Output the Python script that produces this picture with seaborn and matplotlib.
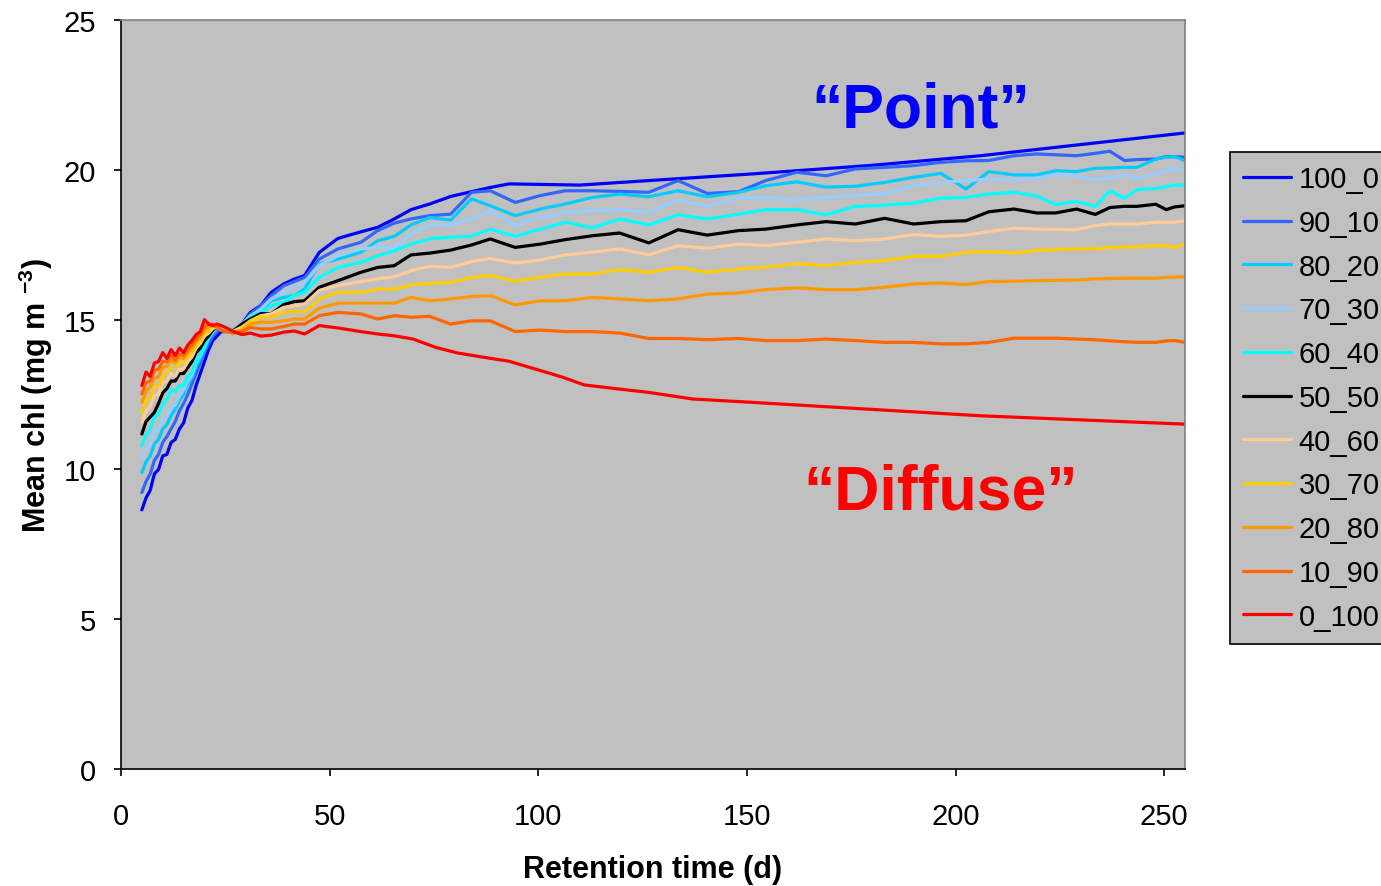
import numpy as np
import pandas as pd
import matplotlib
matplotlib.use("Agg")
import matplotlib.pyplot as plt
from matplotlib.lines import Line2D
import seaborn as sns

# ---------------- data ----------------
series_names = ["100_0", "90_10", "80_20", "70_30", "60_40", "50_50",
                "40_60", "30_70", "20_80", "10_90", "0_100"]
series_colors = ["#0000FF", "#3366FF", "#00CCFF", "#99CCFF", "#00FFFF", "#000000",
                 "#FFCC99", "#FFCC00", "#FF9900", "#FF6600", "#FF0000"]

# dense early part (retention time 5..25 d)
x_dense = [5, 6, 7, 8, 9, 10, 11, 12, 13, 14, 15, 16, 17, 18, 19, 20, 21, 22, 23, 24, 25]
# shared later grid for the wiggly mixtures
x_tail = [27, 29, 31, 33.5, 36, 39, 41.5, 44, 47.5, 52, 57.5, 61.5, 65.5, 69.5, 74, 79, 84,
          88.5, 94.5, 100.5, 106.5, 113, 119.5, 126.5, 133.5, 140.5, 148, 154.5, 162, 169,
          176, 183, 190, 196.5, 202.5, 208, 214, 219.5, 224, 229, 233.5, 237, 240.5, 243.5,
          248, 250.5, 252.5, 255]
# own later grids for the two end-members
x_tail_100_0 = [27, 29, 31, 33.5, 36, 39, 41.5, 44, 47.5, 52, 57.5, 61.5, 65.5, 69.5, 74, 79,
                84, 88.5, 93, 110, 126.5, 151, 180, 206, 255]
x_tail_0_100 = [27, 29, 31, 33.5, 36, 39, 41.5, 44, 47.5, 52, 57.5, 61.5, 65.5, 70, 75.5, 80.5,
                87, 93, 100.5, 106, 111, 119.5, 126.5, 137, 151, 206, 255]

d_100_0 = [8.65, 9.05, 9.3, 9.85, 10.0, 10.45, 10.5, 10.9, 11.0, 11.35, 11.55, 12.05, 12.3, 12.8,
           13.2, 13.6, 14.0, 14.3, 14.45, 14.6, 14.6]
t_100_0 = [14.65, 14.85, 15.24, 15.47, 15.91, 16.19, 16.35, 16.47, 17.24, 17.71, 17.93, 18.08,
           18.36, 18.67, 18.86, 19.11, 19.27, 19.41, 19.53, 19.49, 19.64, 19.86, 20.15, 20.47, 21.23]

d_90_10 = [9.23, 9.6, 9.85, 10.3, 10.5, 10.9, 11.1, 11.35, 11.6, 11.95, 12.2, 12.5, 12.85, 13.2,
           13.55, 13.9, 14.2, 14.45, 14.6, 14.7, 14.7]
t_90_10 = [14.6, 14.8, 15.19, 15.46, 15.8, 16.13, 16.27, 16.41, 17.02, 17.36, 17.58, 17.97, 18.22,
           18.36, 18.47, 18.52, 19.25, 19.3, 18.91, 19.14, 19.3, 19.3, 19.28, 19.25, 19.64, 19.21,
           19.27, 19.64, 19.92, 19.8, 20.03, 20.08, 20.14, 20.25, 20.3, 20.31, 20.47, 20.53, 20.5,
           20.47, 20.55, 20.62, 20.31, 20.34, 20.36, 20.44, 20.44, 20.42]

d_80_20 = [9.9, 10.25, 10.45, 10.85, 11.0, 11.35, 11.5, 11.8, 12.0, 12.3, 12.5, 12.85, 13.05, 13.45,
           13.7, 14.0, 14.35, 14.55, 14.7, 14.75, 14.75]
t_80_20 = [14.62, 14.85, 15.13, 15.3, 15.63, 15.74, 15.8, 16.02, 16.86, 17.02, 17.25, 17.63, 17.78,
           18.16, 18.41, 18.32, 19.03, 18.8, 18.47, 18.69, 18.86, 19.08, 19.19, 19.1, 19.3, 19.1,
           19.25, 19.47, 19.6, 19.42, 19.45, 19.58, 19.75, 19.88, 19.36, 19.94, 19.83, 19.83, 19.97,
           19.94, 20.05, 20.06, 20.08, 20.08, 20.36, 20.42, 20.44, 20.3]

d_70_30 = [10.35, 10.7, 10.85, 11.25, 11.35, 11.7, 11.75, 12.1, 12.15, 12.45, 12.65, 12.95, 13.15,
           13.55, 13.8, 14.1, 14.4, 14.6, 14.75, 14.8, 14.75]
t_70_30 = [14.62, 14.85, 15.11, 15.35, 15.69, 15.91, 16.08, 16.24, 16.8, 17.13, 17.36, 17.41, 17.41,
           17.86, 18.16, 18.16, 18.36, 18.64, 18.14, 18.41, 18.58, 18.64, 18.67, 18.58, 18.99, 18.78,
           19.05, 19.08, 18.99, 19.08, 19.14, 19.2, 19.47, 19.58, 19.64, 19.69, 19.67, 19.72, 19.83,
           19.8, 19.67, 19.73, 19.83, 19.73, 19.86, 19.97, 20.08, 19.97]

d_60_40 = [10.8, 11.15, 11.35, 11.75, 11.85, 12.2, 12.35, 12.65, 12.6, 12.8, 12.8, 13.1, 13.25, 13.6,
           13.85, 14.15, 14.45, 14.65, 14.8, 14.8, 14.75]
t_60_40 = [14.62, 14.8, 15.08, 15.24, 15.46, 15.58, 15.8, 15.91, 16.41, 16.74, 16.91, 17.13, 17.3,
           17.52, 17.69, 17.75, 17.78, 18.02, 17.78, 18.02, 18.25, 18.06, 18.36, 18.16, 18.5, 18.36,
           18.52, 18.67, 18.67, 18.5, 18.78, 18.82, 18.89, 19.05, 19.08, 19.19, 19.25, 19.12, 18.84,
           18.94, 18.78, 19.3, 19.05, 19.34, 19.38, 19.44, 19.49, 19.49]

d_50_50 = [11.18, 11.6, 11.75, 11.9, 12.2, 12.55, 12.7, 12.95, 12.95, 13.2, 13.2, 13.4, 13.6, 13.9,
           14.05, 14.3, 14.45, 14.65, 14.75, 14.65, 14.65]
t_50_50 = [14.62, 14.85, 15.02, 15.2, 15.19, 15.5, 15.6, 15.63, 16.08, 16.3, 16.58, 16.74, 16.8,
           17.16, 17.22, 17.32, 17.49, 17.69, 17.41, 17.52, 17.67, 17.8, 17.89, 17.56, 18.0, 17.82,
           17.97, 18.02, 18.16, 18.27, 18.19, 18.38, 18.19, 18.27, 18.3, 18.6, 18.69, 18.56, 18.56,
           18.69, 18.51, 18.74, 18.78, 18.78, 18.85, 18.67, 18.76, 18.8]

d_40_60 = [11.57, 11.95, 12.1, 12.45, 12.5, 12.9, 12.95, 13.2, 13.1, 13.35, 13.35, 13.6, 13.75, 14.05,
           14.2, 14.45, 14.55, 14.7, 14.75, 14.7, 14.65]
t_40_60 = [14.62, 14.75, 14.96, 15.13, 15.19, 15.41, 15.46, 15.52, 15.97, 16.13, 16.27, 16.36, 16.43,
           16.63, 16.78, 16.74, 16.94, 17.04, 16.89, 16.99, 17.16, 17.25, 17.36, 17.16, 17.47, 17.38,
           17.52, 17.47, 17.58, 17.69, 17.63, 17.69, 17.84, 17.78, 17.82, 17.94, 18.05, 18.02, 18.01,
           18.0, 18.14, 18.19, 18.19, 18.19, 18.25, 18.25, 18.25, 18.3]

d_30_70 = [11.9, 12.3, 12.4, 12.75, 12.8, 13.1, 13.25, 13.4, 13.4, 13.55, 13.55, 13.8, 13.9, 14.15,
           14.3, 14.55, 14.65, 14.75, 14.75, 14.65, 14.6]
t_30_70 = [14.6, 14.7, 14.93, 15.08, 15.08, 15.24, 15.28, 15.26, 15.69, 15.91, 15.91, 16.02, 16.02,
           16.16, 16.21, 16.24, 16.41, 16.47, 16.28, 16.41, 16.52, 16.52, 16.67, 16.58, 16.74, 16.58,
           16.69, 16.75, 16.86, 16.8, 16.91, 16.97, 17.11, 17.11, 17.25, 17.27, 17.22, 17.31, 17.34,
           17.36, 17.36, 17.41, 17.42, 17.43, 17.47, 17.47, 17.41, 17.52]

d_20_80 = [12.24, 12.6, 12.75, 13.05, 13.1, 13.4, 13.45, 13.65, 13.55, 13.75, 13.7, 13.9, 14.05, 14.25,
           14.4, 14.65, 14.75, 14.8, 14.75, 14.65, 14.6]
t_20_80 = [14.55, 14.65, 14.85, 14.91, 14.91, 14.96, 15.02, 15.02, 15.38, 15.55, 15.55, 15.55, 15.55,
           15.74, 15.63, 15.69, 15.77, 15.8, 15.49, 15.63, 15.63, 15.74, 15.69, 15.63, 15.69, 15.85,
           15.89, 16.0, 16.06, 16.0, 16.0, 16.08, 16.19, 16.22, 16.17, 16.27, 16.28, 16.3, 16.31,
           16.32, 16.36, 16.37, 16.38, 16.38, 16.38, 16.41, 16.42, 16.43]

d_10_90 = [12.52, 12.9, 12.95, 13.3, 13.35, 13.6, 13.6, 13.8, 13.65, 13.85, 13.8, 14.0, 14.15, 14.35,
           14.5, 14.75, 14.85, 14.85, 14.75, 14.65, 14.6]
t_10_90 = [14.55, 14.6, 14.74, 14.69, 14.69, 14.77, 14.85, 14.85, 15.13, 15.24, 15.19, 15.02, 15.13,
           15.08, 15.11, 14.85, 14.96, 14.96, 14.6, 14.65, 14.6, 14.6, 14.55, 14.37, 14.37, 14.33,
           14.37, 14.3, 14.3, 14.35, 14.3, 14.24, 14.24, 14.19, 14.19, 14.24, 14.38, 14.38, 14.38,
           14.35, 14.33, 14.29, 14.26, 14.24, 14.24, 14.29, 14.3, 14.24]

d_0_100 = [12.8, 13.25, 13.1, 13.55, 13.6, 13.9, 13.7, 14.0, 13.8, 14.05, 13.9, 14.15, 14.3, 14.5,
           14.6, 15.0, 14.85, 14.8, 14.85, 14.8, 14.74]
t_0_100 = [14.6, 14.5, 14.55, 14.45, 14.48, 14.58, 14.62, 14.52, 14.8, 14.72, 14.6, 14.52, 14.46,
           14.35, 14.07, 13.89, 13.74, 13.61, 13.3, 13.07, 12.82, 12.68, 12.57, 12.35, 12.24, 11.79,
           11.51]

x_ticks = [0, 50, 100, 150, 200, 250]
y_ticks = [0, 5, 10, 15, 20, 25]

# ---------------- assemble long table ----------------
dense_vals = [d_100_0, d_90_10, d_80_20, d_70_30, d_60_40, d_50_50,
              d_40_60, d_30_70, d_20_80, d_10_90, d_0_100]
tail_vals = [t_100_0, t_90_10, t_80_20, t_70_30, t_60_40, t_50_50,
             t_40_60, t_30_70, t_20_80, t_10_90, t_0_100]
tail_x = [x_tail_100_0] + [x_tail] * 9 + [x_tail_0_100]

frames = []
for name, dv, tx, tv in zip(series_names, dense_vals, tail_x, tail_vals):
    xs = list(x_dense) + list(tx)
    ys = list(dv) + list(tv)
    frames.append(pd.DataFrame({"x": xs, "y": ys, "series": name}))
df = pd.concat(frames, ignore_index=True)

# ---------------- plot ----------------
sns.set_theme(style="white")
plt.rcParams["font.family"] = ["Liberation Sans", "DejaVu Sans"]
plt.rcParams["mathtext.fontset"] = "custom"
plt.rcParams["mathtext.rm"] = "Liberation Sans"
plt.rcParams["mathtext.bf"] = "Liberation Sans:bold"
for key in ["text.color", "axes.labelcolor", "xtick.color", "ytick.color"]:
    plt.rcParams[key] = "black"

fig = plt.figure(figsize=(13.81, 8.87), dpi=100, facecolor="white")
ax = fig.add_axes([121 / 1381, 1 - 770 / 887, (1185 - 121) / 1381, (770 - 21) / 887])
ax.set_facecolor("#C0C0C0")

palette = dict(zip(series_names, series_colors))
sns.lineplot(data=df, x="x", y="y", hue="series", hue_order=series_names, palette=palette,
             sort=False, estimator=None, units="series", linewidth=2.3, legend=False, ax=ax)

ax.set_xlim(0, 255)
ax.set_ylim(0, 25)
ax.set_xticks(x_ticks)
ax.set_yticks(y_ticks)
ax.tick_params(axis="both", which="major", direction="out", length=5, width=1.2,
               color="black", labelsize=21, labelcolor="black")
ax.tick_params(axis="x", pad=19)
ax.tick_params(axis="y", pad=13)
ax.tick_params(bottom=True, left=True)

for side in ["left", "bottom"]:
    ax.spines[side].set_color("black")
    ax.spines[side].set_linewidth(1.2)
for side in ["top", "right"]:
    ax.spines[side].set_color("#808080")
    ax.spines[side].set_linewidth(1.2)

ax.set_xlabel("Retention time (d)", fontsize=22, fontweight="bold", labelpad=17)
ax.set_ylabel(r"Mean chl (mg m $^{\mathbf{-3}}$)", fontsize=22, fontweight="bold", labelpad=6)

ax.text(191.7, 21.46, "\u201cPoint\u201d", color="#0000FF", fontsize=45, fontweight="bold",
        ha="center", va="baseline")
ax.text(196.5, 8.68, "\u201cDiffuse\u201d", color="#FF0000", fontsize=45, fontweight="bold",
        ha="center", va="baseline")

handles = [Line2D([0], [0], color=c, lw=2.3) for c in series_colors]
leg = fig.legend(handles, series_names, loc="upper left",
                 bbox_to_anchor=(1230 / 1381, 1 - 153 / 887), borderaxespad=0,
                 fontsize=21, frameon=True, fancybox=False, facecolor="#C0C0C0",
                 edgecolor="black", framealpha=1, handlelength=1.65, handletextpad=0.25,
                 labelspacing=0.54, borderpad=0.45)
leg.get_frame().set_linewidth(1.2)

fig.savefig("out.png", dpi=100, facecolor="white")
